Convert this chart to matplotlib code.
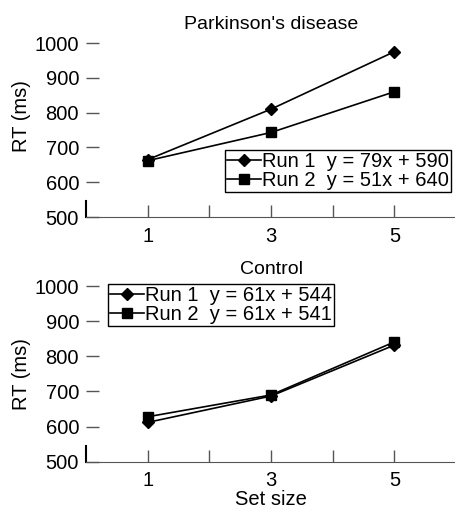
import matplotlib
matplotlib.use("Agg")
import matplotlib.pyplot as plt

plt.rcParams['font.family'] = ['Liberation Sans', 'DejaVu Sans']

# values
set_size = [1, 3, 5]
pd_run1 = [665, 810, 975]
pd_run2 = [662, 743, 860]
ctl_run1 = [612, 687, 832]
ctl_run2 = [628, 690, 841]

pd_labels = ['Run 1  y = 79x + 590', 'Run 2  y = 51x + 640']
ctl_labels = ['Run 1  y = 61x + 544', 'Run 2  y = 61x + 541']

yticks = [500, 600, 700, 800, 900, 1000]
xticks = [1, 2, 3, 4, 5]
xticklabels = ['1', '', '3', '', '5']

FS = 14.5
LFS = 14.5
AXC = '#555555'


def style_axes(ax):
    ax.set_xlim(0, 6)
    ax.set_ylim(500, 1000)
    for s in ['top', 'right']:
        ax.spines[s].set_visible(False)
    ax.spines['bottom'].set_color(AXC)
    ax.spines['left'].set_color('black')
    ax.spines['left'].set_linewidth(1.5)
    ax.spines['left'].set_bounds(500, 545)
    ax.set_yticks(yticks)
    ax.set_xticks(xticks)
    ax.set_xticklabels(xticklabels)
    ax.tick_params(axis='both', direction='in', length=9, width=1,
                   color=AXC, labelsize=FS, pad=7)
    ax.tick_params(axis='y', pad=5)
    ax.set_ylabel('RT (ms)', fontsize=FS)


def draw(ax, r1, r2, labels):
    ax.plot(set_size, r1, color='black', lw=1.2, marker='D', ms=6.5,
            label=labels[0], clip_on=False)
    ax.plot(set_size, r2, color='black', lw=1.2, marker='s', ms=6.5,
            label=labels[1], clip_on=False)


def add_legend(ax, loc, anchor):
    leg = ax.legend(loc=loc, bbox_to_anchor=anchor, borderaxespad=0,
                    fontsize=LFS, frameon=True, fancybox=False, framealpha=1,
                    edgecolor='black', handlelength=1.7, handletextpad=0.05,
                    borderpad=0.1, labelspacing=0.0, numpoints=1)
    leg.get_frame().set_linewidth(1.0)


fig = plt.figure(figsize=(4.56, 5.12), dpi=100)
ax1 = fig.add_axes([0.1886, 0.576, 0.8114, 0.34])
ax2 = fig.add_axes([0.1886, 0.0982, 0.8114, 0.343])

draw(ax1, pd_run1, pd_run2, pd_labels)
style_axes(ax1)
ax1.set_title("Parkinson's disease", fontsize=14, pad=10)
ax1.yaxis.set_label_coords(-0.15, 0.58)
add_legend(ax1, 'upper right', (0.986, 0.385))

draw(ax2, ctl_run1, ctl_run2, ctl_labels)
style_axes(ax2)
ax2.set_title('Control', fontsize=14, pad=8.5)
ax2.yaxis.set_label_coords(-0.15, 0.5)
ax2.set_xlabel('Set size', fontsize=FS, labelpad=0)
add_legend(ax2, 'upper left', (0.059, 1.01))

fig.savefig('out.png', dpi=100)
